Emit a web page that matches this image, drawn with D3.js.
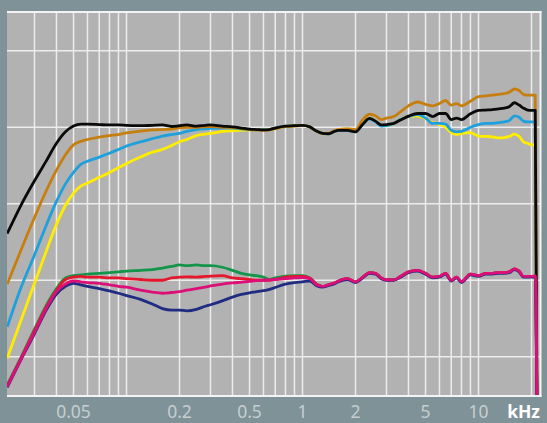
<!DOCTYPE html>
<html>
<head>
<meta charset="utf-8">
<script src="https://cdn.jsdelivr.net/npm/d3@7"></script>
<style>
  body { margin: 0; background: #7f9298; }
  svg { display: block; }
</style>
</head>
<body>
<div id="chart"></div>
<script>
// frequency in kHz, level in dB (0 = upper plateau line)
var freqs = [0.021,0.025,0.03,0.035,0.04,0.045,0.05,0.055,0.06,0.07,0.08,0.09,
  0.1,0.12,0.14,0.16,0.18,0.2,0.22,0.25,0.28,0.3,0.35,0.4,0.45,0.5,0.55,0.6,0.65,0.7,0.8,0.9,
  1,1.1,1.2,1.3,1.4,1.5,1.6,1.8,2,2.2,2.4,2.6,2.8,3,3.3,3.6,4,4.5,5,5.5,6,6.5,7,7.5,8,9,
  10,11,12,13,14,15,16,17,18,19,20,21,21.6];

var yellowVals = [-30.2,-25.4,-20.4,-16.2,-12.7,-10.2,-8.6,-7.7,-7.3,-6.55,-5.9,-5.3,
  -4.75,-3.9,-3.25,-2.9,-2.4,-1.9,-1.6,-1.1,-0.9,-0.8,-0.55,-0.45,-0.4,-0.35,-0.35,-0.35,-0.3,-0.15,0.1,0.2,
  0.25,0.05,-0.5,-0.8,-0.85,-0.6,-0.35,-0.2,-0.5,0.5,1.2,0.8,0.2,0.2,0.5,1.0,1.4,1.5,1.1,0.6,0.35,0.0,-0.7,-0.95,-0.8,-0.7,
  -1.15,-1.2,-1.25,-1.4,-1.35,-1.2,-0.9,-1.2,-1.9,-2.1,-2.3,-2.3,-45];

var cyanVals = [-26.1,-21.1,-16.7,-12.8,-9.7,-7.4,-5.9,-4.85,-4.45,-3.9,-3.4,-2.9,
  -2.45,-1.9,-1.5,-1.15,-0.95,-0.8,-0.55,-0.3,-0.2,-0.15,-0.1,-0.1,-0.2,-0.3,-0.35,-0.35,-0.3,-0.1,0.15,0.2,
  0.25,0.05,-0.5,-0.8,-0.85,-0.6,-0.4,-0.4,-0.6,0.4,1.1,0.7,0.15,0.2,0.5,1.0,1.4,1.7,1.2,0.5,0.5,0.4,-0.4,-0.6,-0.55,0.0,
  0.35,0.5,0.5,0.6,0.7,0.9,1.5,1.3,0.8,0.7,0.7,0.7,-45];

var orangeVals = [-20.5,-16.2,-11.8,-8.3,-5.6,-3.6,-2.3,-1.85,-1.6,-1.3,-1.1,-0.95,
  -0.75,-0.5,-0.35,-0.3,-0.25,-0.05,0.0,0.0,0.05,0.1,0.0,-0.05,-0.15,-0.3,-0.35,-0.4,-0.35,-0.15,0.1,0.15,
  0.25,0.05,-0.5,-0.8,-0.8,-0.5,-0.3,-0.2,-0.3,1.0,1.7,1.5,1.0,1.2,1.4,2.0,2.8,3.3,3.0,2.8,3.1,3.5,2.9,3.1,2.8,3.4,
  4.0,4.1,4.2,4.3,4.4,4.6,5.0,4.8,4.3,4.2,4.2,4.2,-45];

var blackVals = [-13.9,-10.3,-7.0,-4.4,-2.1,-0.6,0.15,0.4,0.4,0.35,0.3,0.3,
  0.25,0.2,0.25,0.3,0.1,0.2,0.3,0.15,0.25,0.3,0.15,0.05,-0.1,-0.25,-0.3,-0.35,-0.3,-0.1,0.15,0.2,
  0.25,0.05,-0.5,-0.8,-0.85,-0.6,-0.4,-0.4,-0.6,0.4,1.15,0.8,0.3,0.35,0.5,0.95,1.45,1.8,1.8,1.4,1.8,1.8,1.0,1.2,1.0,1.75,
  2.2,2.25,2.3,2.4,2.5,2.7,3.2,2.9,2.5,2.25,2.2,2.2,-45];

var greenVals = [-33.7,-30.2,-26.4,-23.3,-21.1,-19.7,-19.4,-19.3,-19.2,-19.1,-19.0,-18.9,
  -18.8,-18.7,-18.6,-18.4,-18.2,-18.0,-18.1,-18.0,-18.1,-18.1,-18.3,-18.7,-19.1,-19.3,-19.4,-19.6,-19.9,-19.7,-19.45,-19.4,
  -19.4,-19.7,-20.5,-20.8,-20.6,-20.4,-20.1,-19.8,-20.2,-19.6,-19.0,-19.1,-19.7,-19.95,-19.95,-19.5,-18.9,-18.7,-19.1,-19.6,-19.5,-19.1,-20.0,-19.6,-20.2,-19.2,
  -19.4,-19.1,-19.1,-19.0,-19.0,-18.9,-18.5,-18.8,-19.5,-19.5,-19.5,-19.5,-45];

var redVals = [-33.8,-30.3,-26.6,-23.5,-21.3,-19.9,-19.6,-19.5,-19.6,-19.6,-19.7,-19.7,
  -19.8,-19.9,-20.0,-20.0,-19.7,-19.6,-19.55,-19.6,-19.5,-19.45,-19.4,-19.7,-19.8,-19.9,-20.0,-20.0,-20.0,-19.9,-19.6,-19.5,
  -19.5,-19.7,-20.5,-20.8,-20.6,-20.4,-20.1,-19.8,-20.2,-19.6,-19.0,-19.1,-19.7,-19.95,-19.95,-19.5,-18.9,-18.7,-19.1,-19.6,-19.5,-19.1,-20.0,-19.6,-20.2,-19.2,
  -19.4,-19.1,-19.1,-19.0,-19.0,-18.9,-18.5,-18.8,-19.5,-19.5,-19.5,-19.5,-45];

var navyVals = [-34.0,-30.5,-27.0,-23.9,-21.8,-20.8,-20.4,-20.6,-20.8,-21.1,-21.4,-21.7,
  -22.0,-22.5,-23.1,-23.7,-23.9,-23.9,-24.0,-23.8,-23.4,-23.2,-22.7,-22.2,-21.85,-21.65,-21.5,-21.35,-21.2,-20.95,-20.5,-20.3,
  -20.2,-20.1,-20.7,-20.9,-20.7,-20.5,-20.2,-19.9,-20.3,-19.7,-19.1,-19.2,-19.8,-20.0,-20.0,-19.6,-19.0,-18.8,-19.2,-19.7,-19.6,-19.2,-20.1,-19.7,-20.3,-19.3,
  -19.5,-19.2,-19.2,-19.1,-19.1,-19.0,-18.6,-18.9,-19.6,-19.6,-19.6,-19.6,-45];

var magentaVals = [-33.9,-30.4,-26.8,-23.7,-21.5,-20.5,-20.1,-20.2,-20.3,-20.4,-20.6,-20.8,
  -20.9,-21.3,-21.55,-21.7,-21.6,-21.5,-21.3,-21.1,-20.9,-20.75,-20.5,-20.35,-20.25,-20.15,-20.05,-20.0,-19.95,-19.9,-19.8,-19.7,
  -19.65,-19.8,-20.6,-20.8,-20.6,-20.4,-20.1,-19.8,-20.2,-19.6,-19.0,-19.1,-19.7,-19.95,-19.95,-19.5,-18.9,-18.7,-19.1,-19.6,-19.5,-19.1,-20.0,-19.6,-20.2,-19.2,
  -19.4,-19.1,-19.1,-19.0,-19.0,-18.9,-18.5,-18.8,-19.5,-19.5,-19.5,-19.4,-45];

// drawing order: back to front
var series = [
  {name: "yellow", color: "#ffec00", values: yellowVals},
  {name: "cyan", color: "#1ea0dc", values: cyanVals},
  {name: "orange", color: "#c67f0e", values: orangeVals},
  {name: "black", color: "#0a0a0a", values: blackVals},
  {name: "green", color: "#13964a", values: greenVals},
  {name: "red", color: "#e6172d", values: redVals},
  {name: "navy", color: "#1f2c82", values: navyVals},
  {name: "magenta", color: "#dc0f78", values: magentaVals}
];

var gridFreqs = [0.03,0.04,0.05,0.06,0.07,0.08,0.09,0.1,0.2,0.3,0.4,0.5,0.6,0.7,0.8,0.9,
  1,2,3,4,5,6,7,8,9,10,20];
var gridLevels = [-30,-20,-10,0,10];
var tickFreqs = [0.05,0.2,0.5,1,2,5,10];
var tickLabels = ["0.05","0.2","0.5","1","2","5","10"];

var W = 547, H = 423;
var plot = {left: 7, right: 540, top: 13, bottom: 395};

var x = d3.scaleLog().domain([0.02, 20]).range([3.5, 531.5]);
var y = d3.scaleLinear().domain([-35, 15]).range([395, 12.5]);

var svg = d3.select("#chart").append("svg")
    .attr("width", W).attr("height", H);

svg.append("rect").attr("width", W).attr("height", H).attr("fill", "#7f9298");

svg.append("defs").append("clipPath").attr("id", "clip")
  .append("rect")
    .attr("x", plot.left).attr("y", plot.top)
    .attr("width", plot.right - plot.left).attr("height", plot.bottom - plot.top);

svg.append("rect")
    .attr("x", plot.left).attr("y", plot.top)
    .attr("width", plot.right - plot.left).attr("height", plot.bottom - plot.top)
    .attr("fill", "#b2b2b2");

// grid
svg.append("g").selectAll("line").data(gridFreqs).enter().append("line")
    .attr("x1", function(d) { return x(d); })
    .attr("x2", function(d) { return x(d); })
    .attr("y1", plot.top).attr("y2", plot.bottom)
    .attr("stroke", "#ececec").attr("stroke-width", 1.5);

svg.append("g").selectAll("line").data(gridLevels).enter().append("line")
    .attr("x1", plot.left).attr("x2", plot.right)
    .attr("y1", function(d) { return y(d); })
    .attr("y2", function(d) { return y(d); })
    .attr("stroke", "#ececec").attr("stroke-width", 1.5);

// curves
var line = d3.line()
    .x(function(d) { return x(d[0]); })
    .y(function(d) { return y(d[1]); })
    .curve(d3.curveMonotoneX);

svg.append("g").attr("clip-path", "url(#clip)")
  .selectAll("path").data(series).enter().append("path")
    .attr("d", function(s) { return line(freqs.map(function(f, i) { return [f, s.values[i]]; })); })
    .attr("fill", "none")
    .attr("stroke", function(s) { return s.color; })
    .attr("stroke-width", 2.8)
    .attr("stroke-linejoin", "round");

// white frame on top, right and bottom
var frame = svg.append("g").attr("stroke", "#f4f4f4").attr("stroke-width", 2).attr("fill", "none");
frame.append("line").attr("x1", plot.left).attr("x2", plot.right + 1.5).attr("y1", 12).attr("y2", 12);
frame.append("line").attr("x1", plot.left).attr("x2", plot.right + 1.5).attr("y1", 396).attr("y2", 396);
frame.append("line").attr("x1", plot.right + 0.5).attr("x2", plot.right + 0.5).attr("y1", 11).attr("y2", 397);

// x tick labels
svg.append("g").selectAll("text").data(tickFreqs).enter().append("text")
    .attr("x", function(d) { return x(d); })
    .attr("y", 418)
    .attr("text-anchor", "middle")
    .attr("font-family", "'Noto Sans', sans-serif")
    .attr("font-size", "17.5px")
    .attr("fill", "#c6ced1")
    .text(function(d, i) { return tickLabels[i]; });

svg.append("text")
    .attr("x", 540).attr("y", 418)
    .attr("text-anchor", "end")
    .attr("font-family", "'Noto Sans', sans-serif")
    .attr("font-size", "17.5px")
    .attr("font-weight", "bold")
    .attr("fill", "#ffffff")
    .text("kHz");
</script>
</body>
</html>
